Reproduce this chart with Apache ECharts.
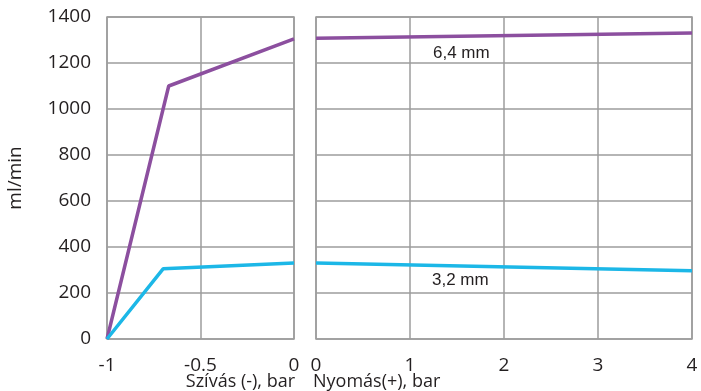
<!DOCTYPE html>
<html><head><meta charset="utf-8">
<script src="https://cdn.jsdelivr.net/npm/echarts@6/dist/echarts.min.js"></script>
<style>html,body{margin:0;padding:0;background:#fff}#c{width:701px;height:391px}</style>
</head><body><div id="c"></div>
<script>
// Data
const suctionTicks = [-1, -0.5, 0];
const pressureTicks = [0, 1, 2, 3, 4];
const yTicks = [0, 200, 400, 600, 800, 1000, 1200, 1400];
const suction64 = [[-1, 0], [-0.67, 1100], [0, 1305]];
const suction32 = [[-1, 0], [-0.7, 305], [0, 330]];
const pressure64 = [[0, 1308], [4, 1330]];
const pressure32 = [[0, 330], [4, 297]];
const labels = ['6,4 mm', '3,2 mm'];
const xNames = ['Szívás (-), bar', 'Nyomás(+), bar'];
const yName = 'ml/min';

const purple = '#8C4F9F', cyan = '#1CB7E7', gridC = '#9c9c9c', txt = '#231f20';
const chart = echarts.init(document.getElementById('c'));
const lineStyle = c => ({color: c, width: 3.5});
const axisBase = {
  axisLine: {show: false}, axisTick: {show: false},
  splitLine: {show: true, lineStyle: {color: gridC, width: 1.5}}
};
const lbl = {fontFamily: 'Open Sans', fontSize: 19, color: txt};
chart.setOption({
  animation: false,
  grid: [
    {left: 107, right: 407, top: 17, bottom: 52, show: true, borderColor: gridC, borderWidth: 1.5},
    {left: 316, right: 9, top: 17, bottom: 52, show: true, borderColor: gridC, borderWidth: 1.5}
  ],
  xAxis: [
    Object.assign({gridIndex: 0, type: 'value', min: -1, max: 0, interval: 0.5,
      axisLabel: Object.assign({margin: 17, formatter: v => String(v)}, lbl)}, axisBase),
    Object.assign({gridIndex: 1, type: 'value', min: 0, max: 4, interval: 1,
      axisLabel: Object.assign({margin: 17, formatter: v => String(v)}, lbl)}, axisBase)
  ],
  yAxis: [
    Object.assign({gridIndex: 0, type: 'value', min: 0, max: 1400, interval: 200,
      name: yName, nameLocation: 'middle', nameGap: 82, nameRotate: 90,
      nameTextStyle: {fontFamily: 'Open Sans', fontSize: 19, color: txt},
      axisLabel: Object.assign({margin: 16, formatter: v => String(v)}, lbl)}, axisBase),
    Object.assign({gridIndex: 1, type: 'value', min: 0, max: 1400, interval: 200,
      axisLabel: {show: false}}, axisBase)
  ],
  series: [
    {type: 'line', xAxisIndex: 0, yAxisIndex: 0, data: suction64, symbol: 'none', lineStyle: lineStyle(purple)},
    {type: 'line', xAxisIndex: 0, yAxisIndex: 0, data: suction32, symbol: 'none', lineStyle: lineStyle(cyan)},
    {type: 'line', xAxisIndex: 1, yAxisIndex: 1, data: pressure64, symbol: 'none', lineStyle: lineStyle(purple)},
    {type: 'line', xAxisIndex: 1, yAxisIndex: 1, data: pressure32, symbol: 'none', lineStyle: lineStyle(cyan)}
  ],
  graphic: [
    {type: 'text', left: 433, top: 45, style: {text: labels[0], font: '17px "Liberation Sans"', fill: txt}},
    {type: 'text', left: 432, top: 272, style: {text: labels[1], font: '17px "Liberation Sans"', fill: txt}},
    {type: 'text', right: 406, top: 373, style: {text: xNames[0], font: '18px "Open Sans"', fill: txt}},
    {type: 'text', left: 313, top: 373, style: {text: xNames[1], font: '18px "Open Sans"', fill: txt}}
  ]
});
</script></body></html>
